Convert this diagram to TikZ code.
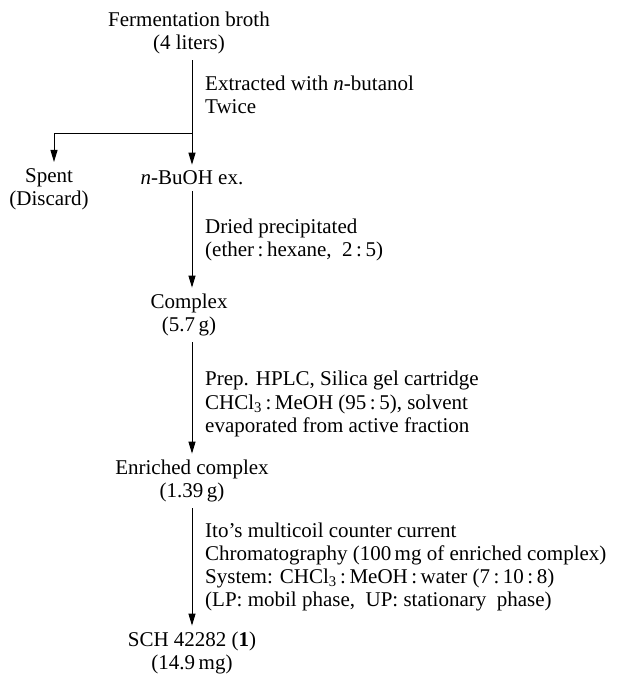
\documentclass[tikz,border=0pt]{standalone}
\usepackage{fontspec}
\setmainfont{Liberation Serif}
\usetikzlibrary{arrows.meta}

\begin{document}
\begin{tikzpicture}[x=1pt, y=-1pt, every node/.style={font=\fontsize{21}{23.3}\selectfont, inner sep=1pt}, >={Triangle[length=12pt, width=7pt]}]
	\useasboundingbox (0,0) rectangle (619,677);
	\tikzset{stage/.style={align=center}, note/.style={align=left, anchor=west}, flow/.style={->, line width=1pt, shorten <=5pt, shorten >=5pt}}
	% stages
	\node[stage] (broth) at (189,33) {Fermentation broth\\(4 liters)};
	\node[stage] (spent) at (49,189) {Spent\\(Discard)};
	\node[stage] (butex) at (192,178) {\textit{n}-BuOH ex.};
	\node[stage] (complex) at (189,315) {Complex\\(5.7\,g)};
	\node[stage] (enriched) at (192,481) {Enriched complex\\(1.39\,g)};
	\node[stage] (sch) at (192,653) {SCH 42282 (\textbf{1})\\(14.9\,mg)};
	% conditions
	\node[note] (n1) at (204,95) {Extracted with \textit{n}-butanol\\Twice};
	\node[note] (n2) at (204,240) {Dried precipitated\\(ether\,:\,hexane,\ \ 2\,:\,5)};
	\node[note] (n3) at (204,404) {Prep. HPLC, Silica gel cartridge\\CHCl\textsubscript{3}\,:\,MeOH (95\,:\,5), solvent\\evaporated from active fraction};
	\node[note] (n4) at (204,567) {Ito’s multicoil counter current\\Chromatography (100\,mg of enriched complex)\\System: CHCl\textsubscript{3}\,:\,MeOH\,:\,water (7\,:\,10\,:\,8)\\(LP: mobil phase,\ \ UP: stationary\ \ phase)};
	% arrows
	\coordinate (fork) at (192,133);
	\draw[flow] (butex.north |- broth.south) -- (butex.north);
	\draw[flow, shorten <=0pt] (fork) -| ([xshift=5pt]spent.north);
	\draw[flow] (butex.south) -- (butex.south |- complex.north);
	\draw[flow] (enriched.north |- complex.south) -- (enriched.north);
	\draw[flow] (enriched.south) -- (sch.north);
\end{tikzpicture}
\end{document}
